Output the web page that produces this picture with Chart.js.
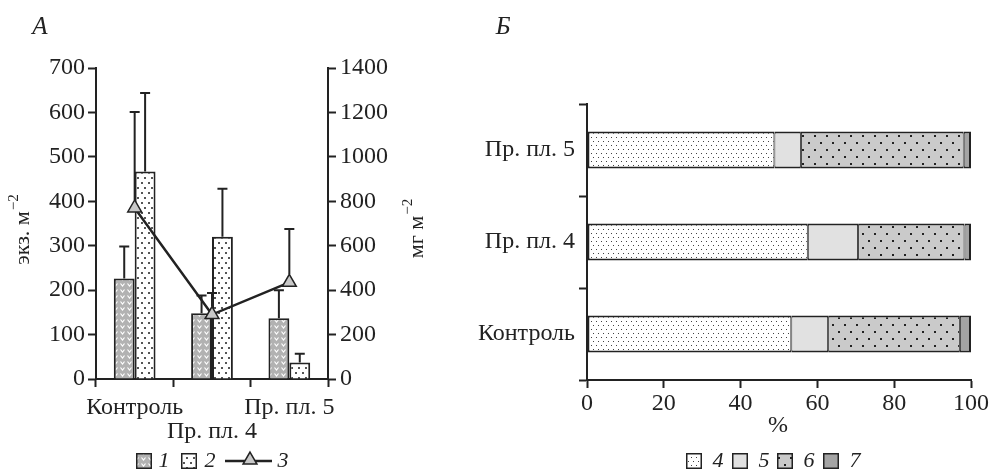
<!DOCTYPE html>
<html>
<head>
<meta charset="utf-8">
<script src="https://cdn.jsdelivr.net/npm/chart.js@4.4.1/dist/chart.umd.min.js"></script>
<style>
html, body { margin: 0; padding: 0; background: #fff; }
#wrap { position: relative; width: 993px; height: 469px; }
#left { position: absolute; left: 0; top: 0; }
#right { position: absolute; left: 470px; top: 0; }
</style>
</head>
<body>
<div id="wrap">
  <canvas id="left" width="470" height="469"></canvas>
  <canvas id="right" width="523" height="469"></canvas>
</div>
<script>
// panel A
const sites = ["Контроль", "Пр. пл. 4", "Пр. пл. 5"];
const series1 = [226, 148, 137];        // экз. м-2
const series1Err = [298, 188, 200];
const series2 = [467, 320, 37];
const series2Err = [644, 428, 57];
const series3 = [770, 290, 435];        // мг м-2
const series3Err = [1202, 387, 675];

// panel B, %
const shareSites = ["Пр. пл. 5", "Пр. пл. 4", "Контроль"];
const share4 = [48.8, 57.5, 53.2];
const share5 = [6.9, 13.1, 9.6];
const share6 = [42.4, 27.7, 34.3];
const share7 = [1.9, 1.7, 2.9];

const INK = '#222';
const FONT = '"Liberation Serif", "Times New Roman", serif';
Chart.defaults.font.family = FONT;
Chart.defaults.font.size = 24;
Chart.defaults.color = INK;

function makePattern(w, h, bg, draw) {
  const c = document.createElement('canvas');
  c.width = w; c.height = h;
  const g = c.getContext('2d');
  g.fillStyle = bg;
  g.fillRect(0, 0, w, h);
  draw(g);
  return g.createPattern(c, 'repeat');
}
function dot(g, x, y, s, col) { g.fillStyle = col; g.fillRect(x, y, s, s); }

const patV = makePattern(7, 6, '#b2b2b2', g => {
  g.strokeStyle = '#fff'; g.lineWidth = 1.2;
  g.beginPath(); g.moveTo(1.5, 1.5); g.lineTo(3.5, 4); g.lineTo(5.5, 1.5); g.stroke();
});
const patDots2 = makePattern(7, 10, '#fff', g => { dot(g, 1, 2, 2, '#555'); dot(g, 4, 7, 2, '#555'); });
const patDots4 = makePattern(10, 8, '#fff', g => {
  dot(g, 1, 1, 1, '#444'); dot(g, 6, 1, 1, '#444'); dot(g, 3, 5, 1, '#444'); dot(g, 8, 5, 1, '#444');
});
const patDots6 = makePattern(12, 14, '#cacaca', g => { dot(g, 2, 2, 2, '#222'); dot(g, 8, 9, 2, '#222'); });
const fill5 = '#e1e1e1';
const fill7 = '#a4a4a4';

function axisTitle(ctx, x, y, main, sup) {
  ctx.save();
  ctx.translate(x, y);
  ctx.rotate(-Math.PI / 2);
  ctx.fillStyle = INK;
  ctx.textBaseline = 'middle';
  ctx.textAlign = 'left';
  ctx.font = '22px ' + FONT;
  const w1 = ctx.measureText(main).width;
  ctx.font = '15px ' + FONT;
  const w2 = ctx.measureText(sup).width;
  const x0 = -(w1 + w2) / 2;
  ctx.font = '22px ' + FONT;
  ctx.fillText(main, x0, 0);
  ctx.font = '15px ' + FONT;
  ctx.fillText(sup, x0 + w1 + 1, -9);
  ctx.restore();
}

function italic(ctx, text, x, y, size) {
  ctx.save();
  ctx.fillStyle = INK;
  ctx.font = 'italic ' + size + 'px ' + FONT;
  ctx.textAlign = 'center';
  ctx.textBaseline = 'middle';
  ctx.fillText(text, x, y);
  ctx.restore();
}

function swatch(ctx, x, y, fill) {
  ctx.save();
  ctx.fillStyle = fill;
  ctx.fillRect(x, y, 16, 16);
  ctx.strokeStyle = INK;
  ctx.lineWidth = 1.5;
  ctx.strokeRect(x + 0.75, y + 0.75, 14.5, 14.5);
  ctx.restore();
}

function triangle(ctx, x, y, r) {
  ctx.save();
  ctx.beginPath();
  ctx.moveTo(x, y - r);
  ctx.lineTo(x + r * 0.866, y + r / 2);
  ctx.lineTo(x - r * 0.866, y + r / 2);
  ctx.closePath();
  ctx.fillStyle = '#c8c8c8';
  ctx.fill();
  ctx.strokeStyle = INK;
  ctx.lineWidth = 1.5;
  ctx.stroke();
  ctx.restore();
}

const errorBars = {
  id: 'errorBars',
  afterDatasetsDraw(chart) {
    const ctx = chart.ctx;
    chart.data.datasets.forEach((ds, i) => {
      if (!ds.errTop) return;
      const meta = chart.getDatasetMeta(i);
      const scale = chart.scales[meta.yAxisID];
      const isLine = ds.type === 'line';
      meta.data.forEach((el, j) => {
        const yTop = scale.getPixelForValue(ds.errTop[j]);
        const yStart = isLine ? el.y - 8 : el.y;
        ctx.save();
        ctx.strokeStyle = INK;
        ctx.lineWidth = 2;
        ctx.beginPath();
        ctx.moveTo(el.x, yStart);
        ctx.lineTo(el.x, yTop);
        ctx.moveTo(el.x - 5, yTop);
        ctx.lineTo(el.x + 5, yTop);
        ctx.stroke();
        ctx.restore();
      });
    });
  }
};

const leftDecor = {
  id: 'leftDecor',
  afterDraw(chart) {
    const ctx = chart.ctx;
    italic(ctx, 'А', 40, 27, 25);
    axisTitle(ctx, 23, 230, 'экз. м', '−2');
    axisTitle(ctx, 417, 229, 'мг м', '−2');
    const ly = 461;
    swatch(ctx, 136, ly - 8, patV);
    italic(ctx, '1', 164, ly, 22);
    swatch(ctx, 181, ly - 8, patDots2);
    italic(ctx, '2', 210, ly, 22);
    ctx.save();
    ctx.strokeStyle = INK; ctx.lineWidth = 2.5;
    ctx.beginPath(); ctx.moveTo(225, ly); ctx.lineTo(272, ly); ctx.stroke();
    ctx.restore();
    triangle(ctx, 250, ly - 1, 8);
    italic(ctx, '3', 283, ly, 22);
  }
};

const rightDecor = {
  id: 'rightDecor',
  afterDraw(chart) {
    const ctx = chart.ctx;
    italic(ctx, 'Б', 33, 27, 25);
    ctx.save();
    ctx.fillStyle = INK;
    ctx.font = '24px ' + FONT;
    ctx.textAlign = 'center';
    ctx.textBaseline = 'middle';
    ctx.fillText('%', 308, 426);
    ctx.restore();
    const ly = 461;
    const fills = [patDots4, fill5, patDots6, fill7];
    const names = ['4', '5', '6', '7'];
    [216, 262, 307, 353].forEach((x, i) => {
      swatch(ctx, x, ly - 8, fills[i]);
      italic(ctx, names[i], x + 32, ly, 22);
    });
  }
};

const gridOpts = {
  drawOnChartArea: false,
  drawTicks: true,
  tickLength: 8,
  tickWidth: 2,
  tickColor: INK
};
const borderOpts = { display: true, width: 2, color: INK };
const plain = v => String(v);

new Chart(document.getElementById('left'), {
  type: 'bar',
  data: {
    labels: sites.map((s, i) => i === 1 ? ['', s] : [s]),
    datasets: [
      {
        label: '1',
        data: series1,
        errTop: series1Err,
        backgroundColor: patV,
        borderColor: INK,
        borderWidth: 2,
        yAxisID: 'y',
        categoryPercentage: 0.54,
        barPercentage: 1
      },
      {
        label: '2',
        data: series2,
        errTop: series2Err,
        backgroundColor: patDots2,
        borderColor: INK,
        borderWidth: 2,
        yAxisID: 'y',
        categoryPercentage: 0.54,
        barPercentage: 1
      },
      {
        type: 'line',
        label: '3',
        data: series3,
        errTop: series3Err,
        yAxisID: 'y1',
        order: -1,
        borderColor: INK,
        borderWidth: 2.5,
        tension: 0,
        pointStyle: 'triangle',
        pointRadius: 8,
        pointBackgroundColor: '#c8c8c8',
        pointBorderColor: INK,
        pointBorderWidth: 1.5
      }
    ]
  },
  options: {
    responsive: false,
    animation: false,
    layout: { padding: { top: 68, left: 0, right: 0, bottom: 0 } },
    plugins: { legend: { display: false }, tooltip: { enabled: false } },
    scales: {
      x: {
        grid: gridOpts,
        border: borderOpts,
        ticks: { autoSkip: false, maxRotation: 0, padding: 9, font: { size: 24, lineHeight: 1 } },
        afterFit: s => { s.height = 90; }
      },
      y: {
        position: 'left',
        min: 0, max: 700,
        grid: gridOpts,
        border: borderOpts,
        ticks: { stepSize: 100, padding: 3, callback: plain },
        afterFit: s => { s.width = 96; }
      },
      y1: {
        position: 'right',
        min: 0, max: 1400,
        grid: gridOpts,
        border: borderOpts,
        ticks: { stepSize: 200, padding: 4, callback: plain },
        afterFit: s => { s.width = 142; }
      }
    }
  },
  plugins: [errorBars, leftDecor]
});

function shareSet(label, data, fill, bw) {
  return {
    label: label,
    data: data,
    backgroundColor: fill,
    borderColor: INK,
    borderWidth: bw,
    borderSkipped: false,
    barPercentage: 0.4,
    categoryPercentage: 1
  };
}

new Chart(document.getElementById('right'), {
  type: 'bar',
  data: {
    labels: shareSites,
    datasets: [
      shareSet('4', share4, patDots4, { top: 2, bottom: 2, left: 2, right: 1 }),
      shareSet('5', share5, fill5, { top: 2, bottom: 2, left: 1, right: 1 }),
      shareSet('6', share6, patDots6, { top: 2, bottom: 2, left: 1, right: 1 }),
      shareSet('7', share7, fill7, { top: 2, bottom: 2, left: 1, right: 2 })
    ]
  },
  options: {
    indexAxis: 'y',
    responsive: false,
    animation: false,
    layout: { padding: { top: 104, left: 0, right: 18, bottom: 0 } },
    plugins: { legend: { display: false }, tooltip: { enabled: false } },
    scales: {
      x: {
        stacked: true,
        min: 0, max: 100,
        grid: gridOpts,
        border: borderOpts,
        ticks: { stepSize: 20, padding: 4, font: { size: 24, lineHeight: 1 } },
        afterFit: s => { s.height = 89; }
      },
      y: {
        stacked: true,
        grid: gridOpts,
        border: borderOpts,
        ticks: { padding: 4 },
        afterFit: s => { s.width = 117; }
      }
    }
  },
  plugins: [rightDecor]
});
</script>
</body>
</html>
